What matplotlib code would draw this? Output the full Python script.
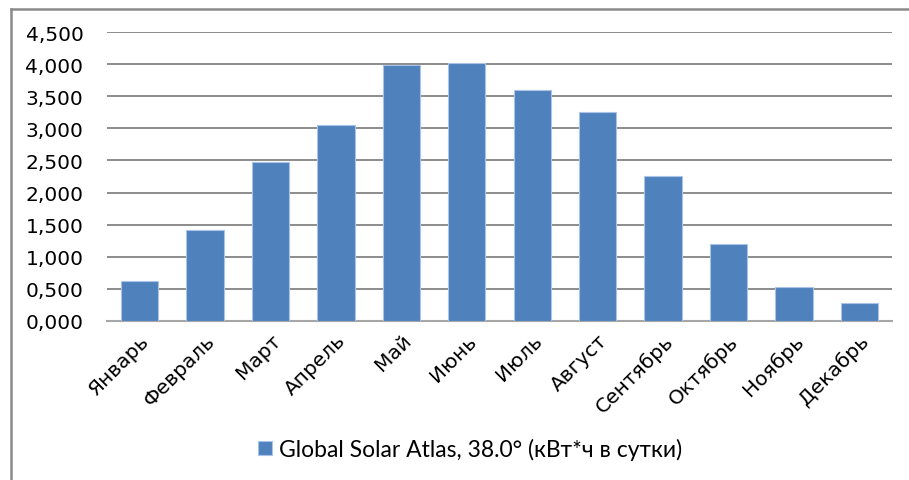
import matplotlib.pyplot as plt
import numpy as np
from matplotlib.lines import Line2D
from matplotlib.patches import Patch

months = ["Январь", "Февраль", "Март", "Апрель", "Май", "Июнь",
          "Июль", "Август", "Сентябрь", "Октябрь", "Ноябрь", "Декабрь"]
irradiation = [0.62, 1.42, 2.47, 3.06, 3.99, 4.02,
               3.60, 3.25, 2.25, 1.19, 0.53, 0.27]
yticks = [0.0, 0.5, 1.0, 1.5, 2.0, 2.5, 3.0, 3.5, 4.0, 4.5]
series_name = "Global Solar Atlas, 38.0° (кВт*ч в сутки)"

bar_color = '#4F81BD'

fig = plt.figure(figsize=(9.09, 4.81), dpi=100)
ax = fig.add_axes([0.1177, 0.3312, 0.8636, 0.5996])

x = np.arange(len(months))
ax.bar(x, irradiation, width=0.57, color=bar_color, edgecolor='#A9C4E6',
       linewidth=0.8, zorder=3)

ax.set_xlim(-0.5, len(months) - 0.5)
ax.set_ylim(0, 4.5)
ax.set_yticks(yticks)
ax.set_yticklabels([f"{v:.3f}".replace('.', ',') for v in yticks],
                   fontsize=14.5, family='DejaVu Sans')
ax.yaxis.grid(True, color='#8C8C8C', linewidth=1.4, zorder=0)
ax.tick_params(axis='y', length=0, pad=17)

ax.set_xticks(x)
ax.set_xticklabels(months, rotation=45, ha='right', va='top',
                   rotation_mode='anchor', fontsize=14.5, family='DejaVu Sans')
ax.tick_params(axis='x', length=0, pad=7)

for side in ['top', 'right', 'left']:
    ax.spines[side].set_visible(False)
ax.spines['bottom'].set_color('#A6A6A6')
ax.spines['bottom'].set_linewidth(1.5)

# chart frame (left and top edges)
fig.add_artist(Line2D([10.5 / 909, 10.5 / 909], [0, 1 - 9.5 / 481],
                      transform=fig.transFigure, color='#8A8A8A', linewidth=1.8))
fig.add_artist(Line2D([10.5 / 909, 1], [1 - 9.5 / 481, 1 - 9.5 / 481],
                      transform=fig.transFigure, color='#8A8A8A', linewidth=1.8))

handle = Patch(facecolor=bar_color, edgecolor='#A9C4E6', linewidth=0.8)
fig.legend([handle], [series_name], loc='center', bbox_to_anchor=(470 / 909, 1 - 450 / 481),
           frameon=False, prop={'family': 'Lato', 'size': 16.5},
           handlelength=0.6, handleheight=0.6, handletextpad=0.3)

fig.savefig("out.png", dpi=100)
